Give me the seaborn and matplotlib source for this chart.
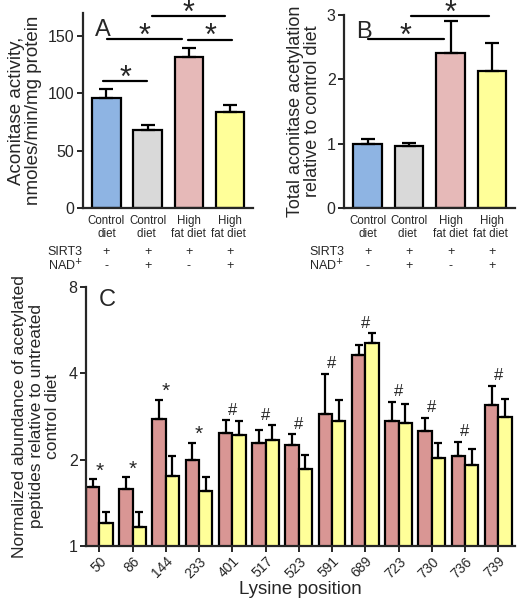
import numpy as np
import pandas as pd
import matplotlib
matplotlib.use("Agg")
import matplotlib.pyplot as plt
import seaborn as sns

sns.set_style("ticks")
plt.rcParams['font.family'] = ['Liberation Sans', 'DejaVu Sans']

# ---------------- data ----------------
groups = ["Control\ndiet", "Control\ndiet ", "High\nfat diet", "High\nfat diet "]
sirt3 = ["+", "+", "+", "+"]
nad = ["-", "+", "-", "+"]
colors_ab = ["#8EB4E3", "#D9D9D9", "#E6B9B8", "#FFFF99"]

activity = [95.7, 68.2, 132.0, 84.1]
activity_err = [7.9, 4.0, 8.0, 6.1]

acetylation = [1.00, 0.96, 2.41, 2.13]
acetylation_err = [0.08, 0.05, 0.49, 0.44]

lysine = ['50', '86', '144', '233', '401', '517', '523', '591', '689', '723', '730', '736', '739']
hfd = [1.60, 1.58, 2.77, 2.00, 2.48, 2.28, 2.24, 2.89, 4.63, 2.73, 2.52, 2.06, 3.11]
hfd_err = [0.11, 0.16, 0.46, 0.29, 0.26, 0.25, 0.21, 1.09, 0.40, 0.44, 0.27, 0.24, 0.51]
hfd_nad = [1.205, 1.16, 1.75, 1.56, 2.43, 2.34, 1.86, 2.73, 5.10, 2.69, 2.02, 1.91, 2.81]
hfd_nad_err = [0.105, 0.15, 0.31, 0.18, 0.29, 0.29, 0.21, 0.50, 0.41, 0.43, 0.27, 0.27, 0.43]
marks = ['*', '*', '*', '*', '#', '#', '#', '#', '#', '#', '#', '#', '#']
colors_c = ["#D99694", "#FFFF99"]

# significance brackets (x0, x1, y) in data units
sig_a = [(-0.07, 0.98, 110.8), (0.02, 1.83, 147.4), (1.1, 2.88, 167.7), (1.98, 3.05, 147.0)]
sig_b = [(0.0, 1.83, 2.62), (1.05, 2.93, 2.98)]

fig = plt.figure(figsize=(5.18, 6.0), dpi=100)
axA = fig.add_axes([0.160, 0.653, 0.328, 0.325])
axB = fig.add_axes([0.664, 0.653, 0.330, 0.322])
axC = fig.add_axes([0.166, 0.090, 0.828, 0.432])

def style(ax):
    sns.despine(ax=ax)
    for s in ['left', 'bottom']:
        ax.spines[s].set_linewidth(1.6)
    ax.tick_params(width=1.4, length=4, labelsize=11.5, pad=2)

def simple_panel(ax, vals, errs, ylabel, ylim, yticks, letter, sigs, star_off, ylfs):
    df = pd.DataFrame({"group": groups, "value": vals})
    sns.barplot(data=df, x="group", y="value", hue="group", palette=colors_ab,
                legend=False, edgecolor="black", linewidth=1.6, width=0.69, ax=ax,
                errorbar=None, saturation=1)
    for bar, e in zip(ax.patches, errs):
        xc = bar.get_x() + bar.get_width() / 2
        ax.errorbar(xc, bar.get_height(), yerr=[[0], [e]], fmt='none', ecolor='black',
                    elinewidth=1.6, capsize=5, capthick=1.6)
    ax.set_ylim(*ylim)
    ax.set_yticks(yticks)
    ax.set_xlim(-0.57, 3.55)
    ax.set_xlabel("")
    ax.set_ylabel(ylabel, fontsize=ylfs, linespacing=1.05, labelpad=4)
    style(ax)
    ax.tick_params(axis='x', labelsize=8.3, length=0, pad=5)
    for lab in ax.get_xticklabels():
        lab.set_linespacing(1.15)
    ax.text(0.07, 0.97, letter, transform=ax.transAxes, fontsize=17, va='top', ha='left')
    for (x0, x1, y) in sigs:
        ax.plot([x0, x1], [y, y], color='black', lw=1.6, clip_on=False)
        ax.text((x0 + x1) / 2, y + star_off, "*", ha='center', va='center',
                fontsize=22, clip_on=False)
    # SIRT3 / NAD rows
    trans = matplotlib.transforms.blended_transform_factory(ax.transData, ax.transAxes)
    ax.text(-0.57, -0.225, "SIRT3", transform=trans, ha='right', va='center', fontsize=9)
    ax.text(-0.57, -0.297, "NAD$^{+}$", transform=trans, ha='right', va='center', fontsize=9)
    for i in range(4):
        ax.text(i, -0.225, sirt3[i], transform=trans, ha='center', va='center', fontsize=9)
        ax.text(i, -0.297, nad[i], transform=trans, ha='center', va='center', fontsize=9)

simple_panel(axA, activity, activity_err, "Aconitase activity,\nnmoles/min/mg protein",
             (0, 170), [0, 50, 100, 150], "A", sig_a, 2.0, 13.5)
simple_panel(axB, acetylation, acetylation_err, "Total aconitase acetylation\nrelative to control diet",
             (0, 3), [0, 1, 2, 3], "B", sig_b, 0.04, 13)

# ---------------- panel C ----------------
dfc = pd.DataFrame({
    "lysine": lysine * 2,
    "value": hfd + hfd_nad,
    "treat": ["HFD"] * len(lysine) + ["HFD+NAD"] * len(lysine),
})
sns.barplot(data=dfc, x="lysine", y="value", hue="treat", palette=colors_c,
            edgecolor="black", linewidth=1.6, width=0.8, errorbar=None, ax=axC,
            saturation=1)
axC.get_legend().remove()
axC.set_yscale('log', base=2)
tops = np.zeros(len(lysine))
for cont, errs in zip(axC.containers, [hfd_err, hfd_nad_err]):
    for i, (bar, e) in enumerate(zip(cont, errs)):
        xc = bar.get_x() + bar.get_width() / 2
        h = bar.get_height()
        axC.errorbar(xc, h, yerr=[[0], [e]], fmt='none', ecolor='black',
                     elinewidth=1.6, capsize=3, capthick=1.6)
        tops[i] = max(tops[i], h + e)
for i, m in enumerate(marks):
    if m == '*':
        axC.annotate(m, (i, tops[i]), xytext=(0, -1), textcoords='offset points',
                     ha='center', va='bottom', fontsize=15)
    else:
        axC.annotate(m, (i, tops[i]), xytext=(0, 2), textcoords='offset points',
                     ha='center', va='bottom', fontsize=12)
axC.set_ylim(1, 8)
axC.set_yticks([1, 2, 4, 8])
axC.set_yticklabels(["1", "2", "4", "8"])
axC.yaxis.set_minor_locator(matplotlib.ticker.NullLocator())
axC.set_xlim(-0.4, 12.5)
style(axC)
axC.tick_params(axis='x', labelsize=10, length=4)
for lab in axC.get_xticklabels():
    lab.set_rotation(45)
    lab.set_ha('right')
    lab.set_rotation_mode('anchor')
axC.set_xlabel("Lysine position", fontsize=13.5, labelpad=0)
axC.set_ylabel("Normalized abundance of acetylated\npeptides relative to untreated\ncontrol diet",
               fontsize=12.5, linespacing=1.12, labelpad=6)
axC.text(0.03, 0.99, "C", transform=axC.transAxes, fontsize=17, va='top', ha='left')

fig.savefig("out.png", dpi=100)
